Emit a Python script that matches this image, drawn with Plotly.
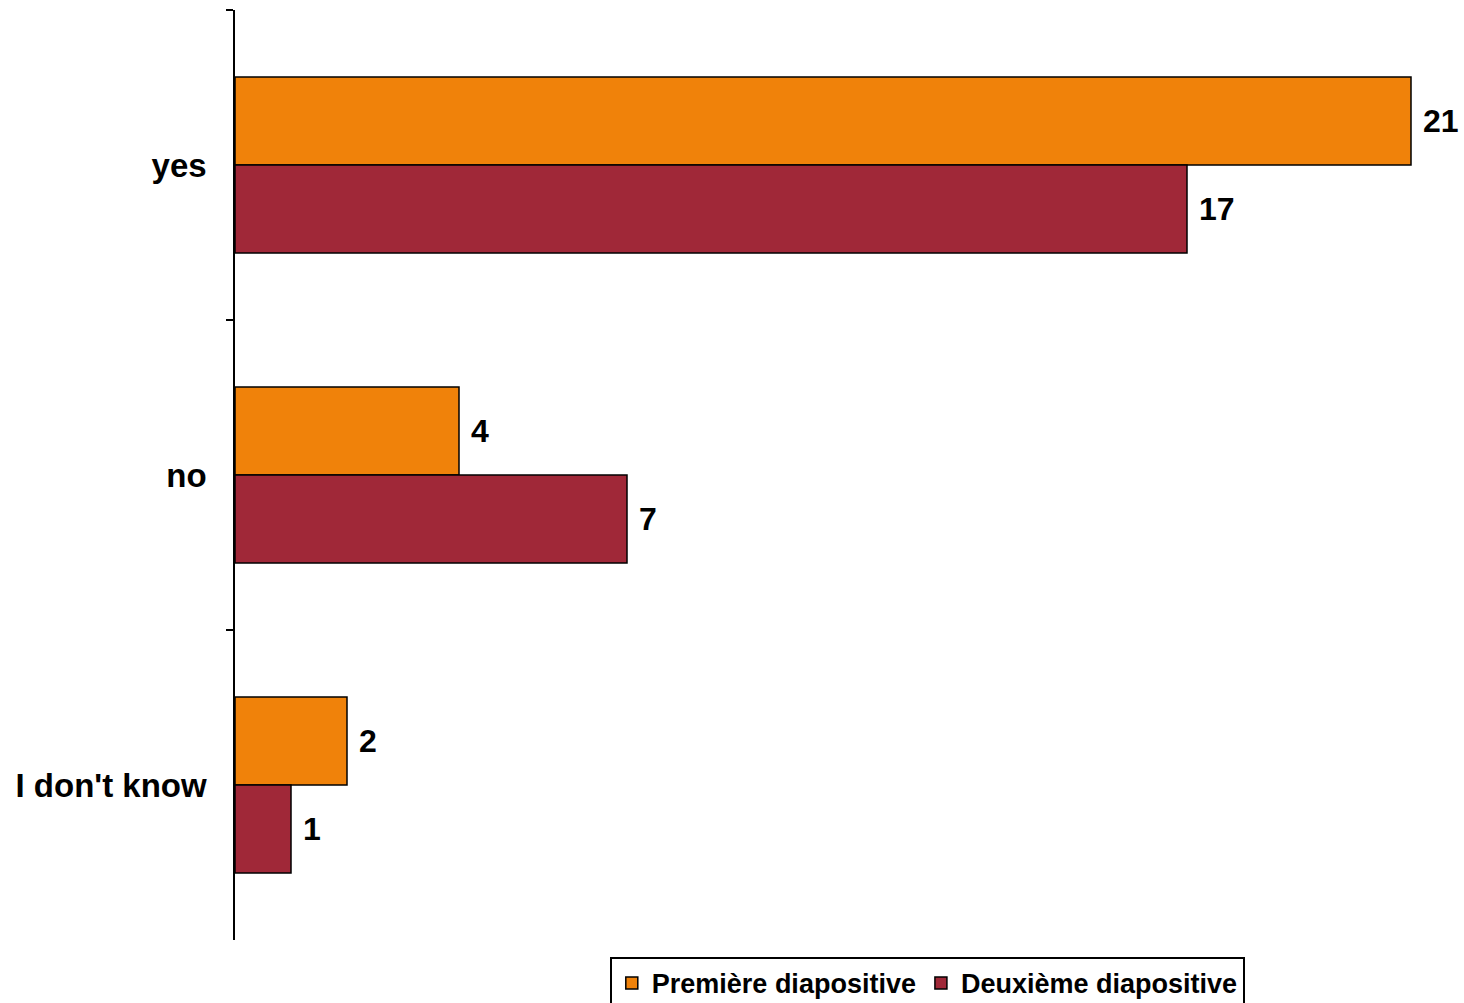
import plotly.graph_objects as go

categories = ["yes", "no", "I don't know"]
premiere = [21, 4, 2]
deuxieme = [17, 7, 1]
series_names = ["Première diapositive", "Deuxième diapositive"]
colors = ["#F0820A", "#A02838"]

FONT = "Liberation Sans, Arial, sans-serif"

fig = go.Figure()
for name, vals, col in zip(series_names, [premiere, deuxieme], colors):
    fig.add_trace(go.Bar(
        y=categories, x=vals, name=name, orientation="h",
        marker=dict(color=col, line=dict(color="black", width=1.5)),
        text=vals, texttemplate=" %{x}", textposition="outside",
        textfont=dict(family=FONT, size=32, color="black", weight="bold"),
        cliponaxis=False,
    ))

fig.update_layout(
    width=1464, height=1003,
    margin=dict(l=235, r=25, t=10, b=63),
    paper_bgcolor="white", plot_bgcolor="white",
    barmode="group", bargap=0.432, bargroupgap=0,
    font=dict(family=FONT, color="black"),
    showlegend=True,
    legend=dict(
        orientation="h", x=0.575, xanchor="center",
        yref="container", y=0.046, yanchor="top",
        bordercolor="black", borderwidth=2,
        font=dict(family=FONT, size=27, color="black", weight="bold"),
        traceorder="normal",
    ),
    xaxis=dict(range=[0, 21.5], visible=False, showgrid=False, zeroline=False),
    yaxis=dict(
        autorange="reversed", type="category",
        showline=True, linecolor="black", linewidth=1.5,
        ticks="outside", ticklen=7, tickcolor="black", tickwidth=1.5,
        tickson="boundaries", ticklabelstandoff=20,
        tickfont=dict(family=FONT, size=33, color="black", weight="bold"),
        showgrid=False, zeroline=False,
    ),
)

fig.write_html("out.html")
